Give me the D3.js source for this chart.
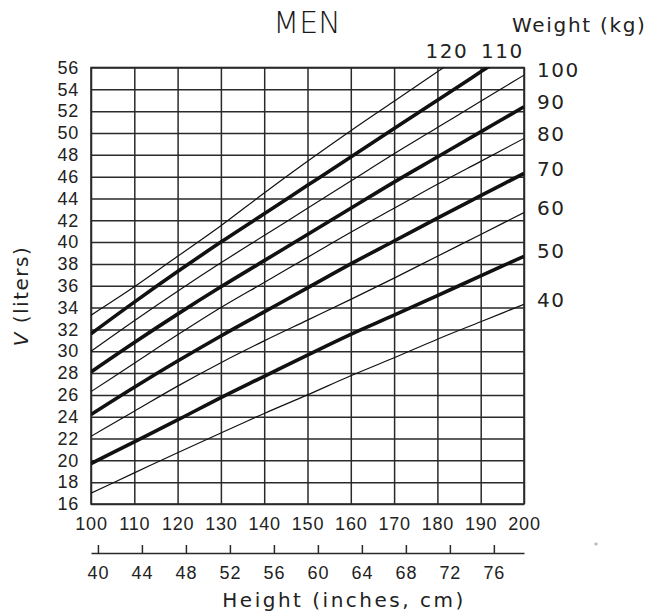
<!DOCTYPE html>
<html>
<head>
<meta charset="utf-8">
<script src="https://cdn.jsdelivr.net/npm/d3@7/dist/d3.min.js"></script>
<style>
  body { margin: 0; background: #fff; }
  svg { display: block; font-family: "DejaVu Sans", sans-serif; }
</style>
</head>
<body>
<svg id="chart" width="653" height="615"></svg>
<script>
const heightsCm = [100, 110, 120, 130, 140, 150, 160, 170, 180, 190, 200];
const inchTicks = [40, 44, 48, 52, 56, 60, 64, 68, 72, 76];
const literTicks = d3.range(16, 57, 2);

// V (liters) for each body weight (kg); values past 56 get clipped
const v40 = [17.0, 18.85, 20.7, 22.5, 24.3, 26.0, 27.75, 29.4, 31.1, 32.7, 34.3];
const v50 = [19.7, 21.7, 23.7, 25.75, 27.7, 29.65, 31.55, 33.3, 35.1, 36.9, 38.7];
const v60 = [22.2, 24.5, 26.8, 28.95, 30.95, 32.85, 34.75, 36.7, 38.7, 40.7, 42.7];
const v70 = [24.2, 26.7, 29.1, 31.4, 33.6, 35.8, 38.0, 40.1, 42.2, 44.25, 46.3];
const v80 = [26.3, 28.9, 31.5, 34.0, 36.3, 38.6, 40.9, 43.1, 45.3, 47.4, 49.5];
const v90 = [28.1, 30.8, 33.4, 35.9, 38.3, 40.7, 43.1, 45.5, 47.8, 50.1, 52.4];
const v100 = [30.0, 32.8, 35.5, 38.1, 40.6, 43.1, 45.6, 48.1, 50.5, 52.9, 55.3];
const v110 = [31.6, 34.5, 37.3, 40.0, 42.6, 45.2, 47.8, 50.4, 53.0, 55.6, 58.2];
const v120 = [33.3, 35.9, 38.7, 41.5, 44.5, 47.4, 50.2, 52.9, 55.6, 58.3, null];

const series = [
  { kg: 40, values: v40, thick: false },
  { kg: 50, values: v50, thick: true },
  { kg: 60, values: v60, thick: false },
  { kg: 70, values: v70, thick: true },
  { kg: 80, values: v80, thick: false },
  { kg: 90, values: v90, thick: true },
  { kg: 100, values: v100, thick: false },
  { kg: 110, values: v110, thick: true },
  { kg: 120, values: v120, thick: false }
];

const plotLeft = 91, plotRight = 524, plotTop = 67.5, plotBottom = 504;
const svg = d3.select('#chart');

const x = d3.scaleLinear().domain([100, 200]).range([plotLeft, plotRight]);
const y = d3.scaleLinear().domain([16, 56]).range([plotBottom, plotTop]);
const xInch = d3.scaleLinear().domain([100 / 2.54, 200 / 2.54]).range([plotLeft, plotRight]);

svg.append('defs').append('clipPath')
  .attr('id', 'plot-clip')
  .append('rect')
  .attr('x', plotLeft)
  .attr('y', plotTop)
  .attr('width', plotRight - plotLeft)
  .attr('height', plotBottom - plotTop);

// Horizontal grid + liter labels
const yAxis = svg.append('g')
  .attr('transform', `translate(${plotLeft},0)`)
  .call(d3.axisLeft(y).tickValues(literTicks).tickSize(-(plotRight - plotLeft)).tickPadding(12).tickFormat(d3.format('d')));

// Vertical grid + cm labels
const xAxis = svg.append('g')
  .attr('transform', `translate(0,${plotBottom})`)
  .call(d3.axisBottom(x).tickValues(heightsCm).tickSize(-(plotBottom - plotTop)).tickPadding(13).tickFormat(d3.format('d')));

[yAxis, xAxis].forEach((g) => {
  g.select('.domain').remove();
  g.selectAll('.tick line').attr('stroke', '#2a2a2a').attr('stroke-width', 1.5);
  g.selectAll('.tick text')
    .attr('fill', '#222')
    .style('font-size', '18px')
    .style('letter-spacing', '0.8px');
});

// Plot border
svg.append('rect')
  .attr('x', plotLeft)
  .attr('y', plotTop)
  .attr('width', plotRight - plotLeft)
  .attr('height', plotBottom - plotTop)
  .attr('fill', 'none')
  .attr('stroke', '#2a2a2a')
  .attr('stroke-width', 1.6);

// Weight curves
const line = d3.line()
  .defined((d) => d[1] != null)
  .x((d) => x(d[0]))
  .y((d) => y(d[1]))
  .curve(d3.curveMonotoneX);

svg.append('g')
  .attr('clip-path', 'url(#plot-clip)')
  .selectAll('path')
  .data(series)
  .join('path')
  .attr('d', (s) => line(heightsCm.map((h, i) => [h, s.values[i]])))
  .attr('fill', 'none')
  .attr('stroke', '#111')
  .attr('stroke-width', (s) => (s.thick ? 3.6 : 1.2))
  .attr('stroke-linejoin', 'round');

// Where a curve leaves the top edge (56 l), if it does
const exitHeight = (vals) => {
  for (let i = 1; i < vals.length; i++) {
    if (vals[i] != null && vals[i] >= 56) {
      const t = (56 - vals[i - 1]) / (vals[i] - vals[i - 1]);
      return heightsCm[i - 1] + t * (heightsCm[i] - heightsCm[i - 1]);
    }
  }
  return null;
};

// Weight labels: on the right edge, or above the top for 110/120
const labelGroup = svg.append('g')
  .attr('fill', '#222')
  .style('font-size', '20px')
  .style('letter-spacing', '1.5px');

series.forEach((s) => {
  const h = exitHeight(s.values);
  if (h != null) {
    labelGroup.append('text')
      .attr('x', x(h) + (s.kg === 110 ? 15 : 3))
      .attr('y', 58)
      .attr('text-anchor', 'middle')
      .text(s.kg);
  } else {
    const last = s.values[s.values.length - 1];
    labelGroup.append('text')
      .attr('x', plotRight + 13)
      .attr('y', y(last) - 5)
      .attr('dy', '0.36em')
      .text(s.kg);
  }
});

// Inch axis below the cm labels
const inchAxis = svg.append('g')
  .attr('transform', 'translate(0,553)')
  .call(d3.axisBottom(xInch).tickValues(inchTicks).tickSize(-8).tickSizeOuter(0).tickPadding(13).tickFormat(d3.format('d')));
inchAxis.select('.domain').attr('stroke', '#2a2a2a').attr('stroke-width', 1.5);
inchAxis.selectAll('.tick line').attr('stroke', '#2a2a2a').attr('stroke-width', 1.5);
inchAxis.selectAll('.tick text')
  .attr('fill', '#222')
  .style('font-size', '18px')
  .style('letter-spacing', '0.8px');

// Titles
svg.append('text')
  .attr('x', 307)
  .attr('y', 33)
  .attr('text-anchor', 'middle')
  .attr('fill', '#1a1a1a')
  .style('font-size', '30px')
  .style('font-weight', 200)
  .text('MEN');

svg.append('text')
  .attr('x', 512)
  .attr('y', 32)
  .attr('fill', '#222')
  .style('font-size', '20px')
  .style('letter-spacing', '1.7px')
  .text('Weight (kg)');

svg.append('text')
  .attr('x', 344)
  .attr('y', 607)
  .attr('text-anchor', 'middle')
  .attr('fill', '#222')
  .style('font-size', '20px')
  .style('letter-spacing', '2.5px')
  .text('Height (inches, cm)');

const yTitle = svg.append('text')
  .attr('transform', 'translate(28,296) rotate(-90)')
  .attr('text-anchor', 'middle')
  .attr('fill', '#222')
  .style('font-size', '20px')
  .style('letter-spacing', '1.5px');
yTitle.append('tspan').style('font-style', 'italic').text('V');
yTitle.append('tspan').text(' (liters)');

// Small speck mark to the right of the cm axis
svg.append('text')
  .attr('x', 596)
  .attr('y', 549)
  .attr('text-anchor', 'middle')
  .attr('fill', '#999')
  .style('font-size', '9px')
  .text('*');
</script>
</body>
</html>
